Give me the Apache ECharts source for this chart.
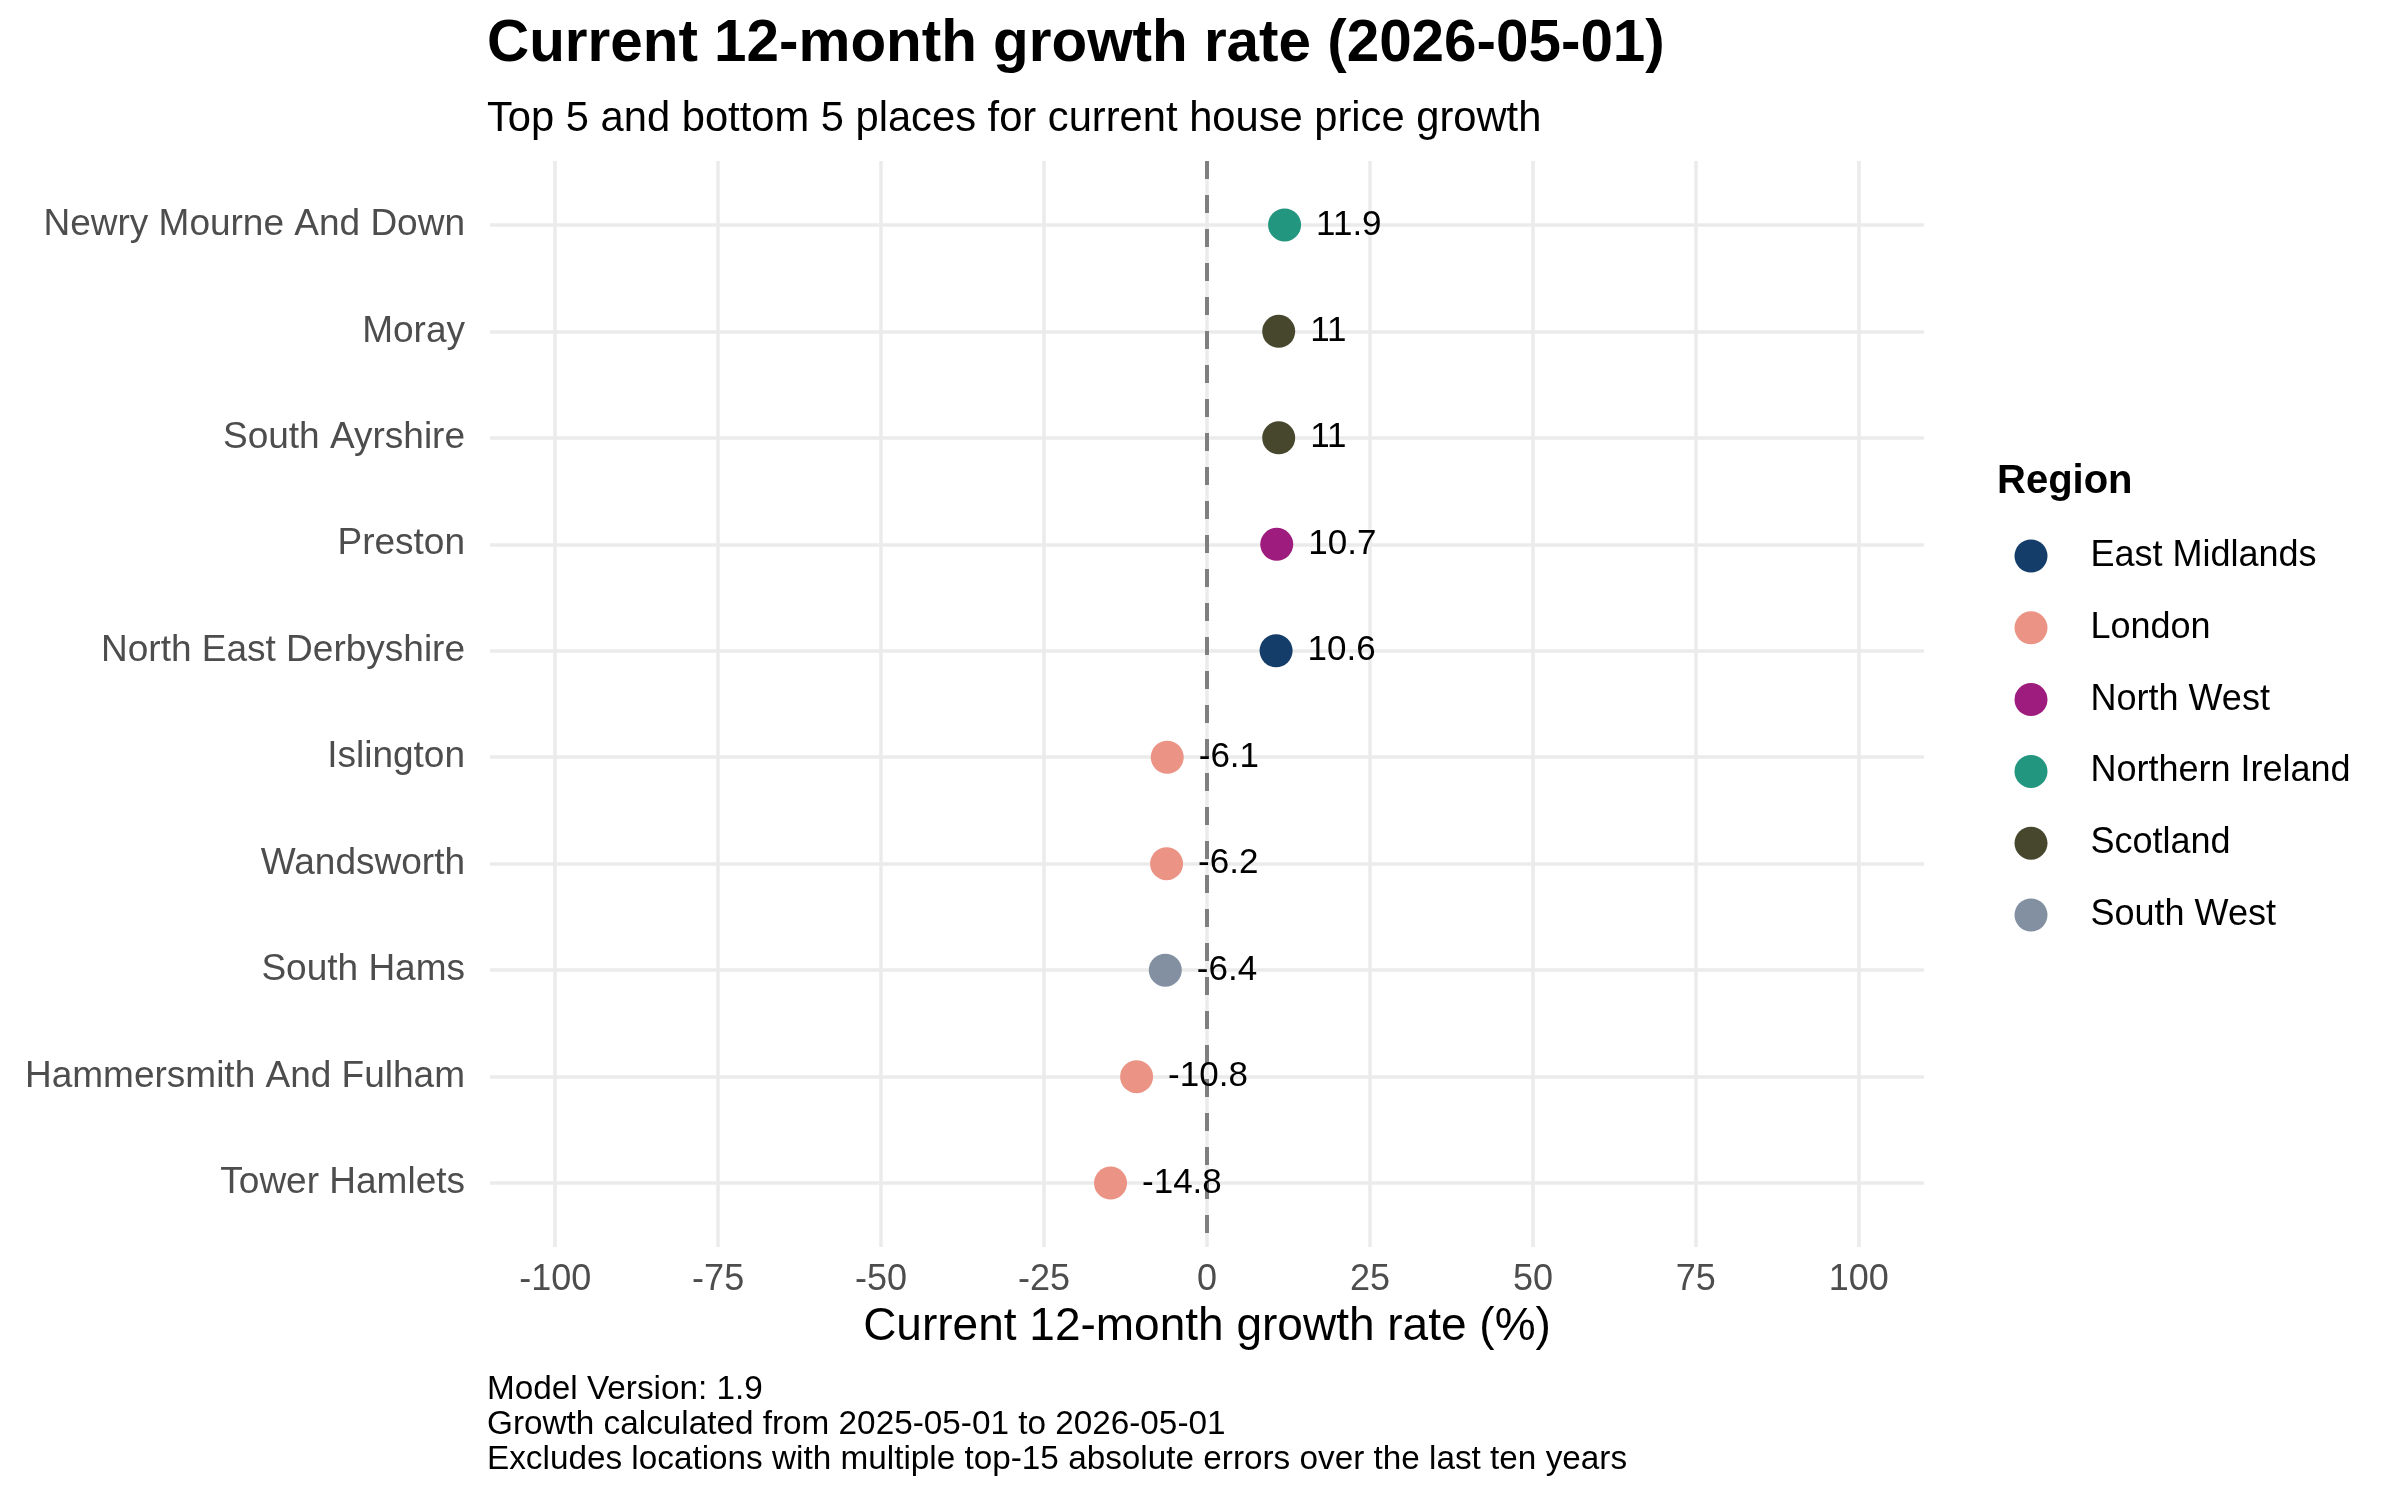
<!DOCTYPE html>
<html>
<head>
<meta charset="utf-8">
<script src="https://cdn.jsdelivr.net/npm/echarts@6/dist/echarts.min.js"></script>
<style>
html,body{margin:0;padding:0;background:#fff;}
#chart{width:2400px;height:1500px;}
</style>
</head>
<body>
<div id="chart"></div>
<script>
// ---- data ----
const places = ['Newry Mourne And Down','Moray','South Ayrshire','Preston','North East Derbyshire','Islington','Wandsworth','South Hams','Hammersmith And Fulham','Tower Hamlets'];
const growth = [11.9, 11, 11, 10.7, 10.6, -6.1, -6.2, -6.4, -10.8, -14.8];
const placeRegion = ['Northern Ireland','Scotland','Scotland','North West','East Midlands','London','London','South West','London','London'];
const regions = ['East Midlands','London','North West','Northern Ireland','Scotland','South West'];
const regionColors = ['#143D69','#EB9385','#9E1C7E','#22967F','#46472D','#8390A2'];
const xTicks = [-100, -75, -50, -25, 0, 25, 50, 75, 100];
const titleText = 'Current 12-month growth rate (2026-05-01)';
const subtitleText = 'Top 5 and bottom 5 places for current house price growth';
const xAxisTitle = 'Current 12-month growth rate (%)';
const legendTitle = 'Region';
const captionLines = ['Model Version: 1.9','Growth calculated from 2025-05-01 to 2026-05-01','Excludes locations with multiple top-15 absolute errors over the last ten years'];

const FONT = 'Liberation Sans, Arial, Helvetica, sans-serif';
const chart = echarts.init(document.getElementById('chart'), null, {renderer: 'canvas'});

const rowIdx = places.map((_, i) => i);

const series = regions.map((r, ri) => ({
  name: r,
  type: 'scatter',
  symbol: 'circle',
  symbolSize: 33,
  itemStyle: {color: regionColors[ri], opacity: 1},
  z: 5,
  label: {
    show: true,
    position: 'right',
    distance: 15,
    fontFamily: FONT,
    fontSize: 35,
    color: '#000',
    formatter: p => String(p.value[0])
  },
  emphasis: {disabled: true},
  data: places.map((p, i) => placeRegion[i] === r ? [growth[i], i] : null).filter(d => d !== null)
}));

series.push({
  name: '__zero',
  type: 'line',
  data: [],
  silent: true,
  z: 3,
  markLine: {
    silent: true,
    symbol: ['none','none'],
    label: {show: false},
    lineStyle: {type: [18, 16], color: '#7F7F7F', width: 4},
    data: [{xAxis: 0}],
    animation: false
  }
});

const option = {
  backgroundColor: '#ffffff',
  animation: false,
  title: [
    {text: titleText, left: 487, top: 16, padding: 0,
     textStyle: {fontFamily: FONT, fontSize: 58.4, fontWeight: 'bold', color: '#000'}},
    {text: subtitleText, left: 487, top: 99, padding: 0,
     textStyle: {fontFamily: FONT, fontSize: 41.7, fontWeight: 'normal', color: '#000'}},
    {text: legendTitle, left: 1997, top: 462, padding: 0,
     textStyle: {fontFamily: FONT, fontSize: 40, fontWeight: 'bold', color: '#000'}},
    {text: captionLines.join('\n'), left: 487, top: 1372, padding: 0,
     textStyle: {fontFamily: FONT, fontSize: 33.3, fontWeight: 'normal', color: '#000', lineHeight: 35}}
  ],
  legend: {
    data: regions,
    orient: 'vertical',
    left: 2014.5,
    top: 538,
    padding: 0,
    itemWidth: 33,
    itemHeight: 33,
    itemGap: 35.8,
    icon: 'circle',
    selectedMode: false,
    textStyle: {fontFamily: FONT, fontSize: 36, color: '#000', lineHeight: 33, padding: [0, 0, 0, 38]}
  },
  grid: {left: 490, top: 161, width: 1434, height: 1086, containLabel: false},
  xAxis: {
    type: 'value',
    min: -110,
    max: 110,
    axisLine: {show: false},
    axisTick: {show: false, customValues: xTicks},
    axisLabel: {customValues: xTicks, fontFamily: FONT, fontSize: 36, color: '#4D4D4D', margin: 15},
    splitLine: {show: true, lineStyle: {color: '#EBEBEB', width: 3.5}},
    name: xAxisTitle,
    nameLocation: 'middle',
    nameGap: 57,
    nameTextStyle: {fontFamily: FONT, fontSize: 46, color: '#000'}
  },
  yAxis: {
    type: 'value',
    inverse: true,
    min: -0.6,
    max: places.length - 1 + 0.6,
    axisLine: {show: false},
    axisTick: {show: false, customValues: rowIdx},
    axisLabel: {customValues: rowIdx, formatter: v => places[v], fontFamily: FONT, fontSize: 37, color: '#4D4D4D', margin: 25},
    splitLine: {show: true, lineStyle: {color: '#EBEBEB', width: 3.5}}
  },
  series: series
};
chart.setOption(option);
</script>
</body>
</html>
